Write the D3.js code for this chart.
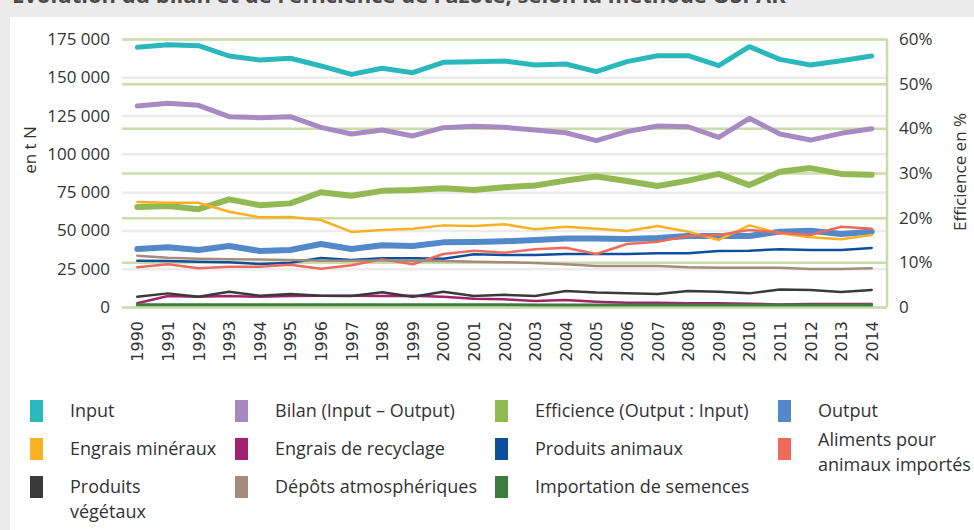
<!DOCTYPE html>
<html>
<head>
<meta charset="utf-8">
<script src="https://cdn.jsdelivr.net/npm/d3@7"></script>
<style>
  html, body { margin: 0; padding: 0; background: #ebebeb; }
  svg { display: block; }
</style>
</head>
<body>
<svg id="chart" width="974" height="530"></svg>
<script>
// Nitrogen balance (OSPAR method), 1990–2014
const years = d3.range(1990, 2015);

const input      = [169600,171300,170600,163900,161300,162400,157400,151900,155900,153000,159800,160200,160600,158000,158700,153700,160200,164100,164100,157600,170000,161700,158000,160800,163900];
const bilan      = [131300,133000,131700,124300,123600,124300,117300,113000,115600,111700,117100,118000,117300,115600,113800,108600,114500,118200,117700,110800,123200,113000,109000,113400,116400];
const output     = [37900,39000,37200,39800,36600,37200,41100,37900,40300,39800,42200,42400,42900,43800,44800,44800,44400,45100,46400,46400,46400,49200,49800,47700,49200];
const efficience = [22.4,22.6,21.9,24.1,22.8,23.2,25.7,24.9,26.0,26.2,26.6,26.2,26.8,27.2,28.3,29.2,28.2,27.1,28.3,29.8,27.3,30.3,31.1,29.8,29.6];
const engraisMineraux   = [68600,68100,68100,62200,58600,58800,56800,49000,50300,51100,53300,52900,54000,50700,52400,51100,49600,52900,49200,43800,53300,48100,45500,44200,47000];
const engraisRecyclage  = [2400,7200,6700,7200,6700,7200,7400,7400,7200,7400,6700,5400,5000,3900,4600,3500,2800,2800,2400,2400,2200,1700,2000,2000,2000];
const produitsAnimaux   = [30200,30000,29600,29200,28100,28900,32000,30700,31800,31800,31500,34400,34000,34000,34600,34600,34600,35100,35100,36600,36800,37700,37200,37200,38500];
const alimentsImportes  = [25900,27900,25300,26300,26300,27600,25000,27200,31100,27900,34600,36800,35500,37700,38700,34600,41100,42600,46400,47000,50300,48500,47000,52400,51100];
const produitsVegetaux  = [6700,8900,6700,10000,7400,8500,7400,7200,9600,6700,10000,7200,8000,7200,10400,9400,8900,8500,10400,10000,8900,11500,11100,9800,11100];
const depotsAtmo        = [33500,32200,31500,31100,31000,30700,30200,30200,30400,30200,30000,29600,29200,28700,27900,26800,26800,26800,25900,25700,25700,25700,24800,24800,25300];
const importSemences    = [1500,1500,1400,1400,1400,1400,1400,1400,1400,1400,1400,1400,1400,1300,1300,1300,1300,1300,1300,1300,1300,1300,1300,1300,1300];

const leftTicks  = [0, 25000, 50000, 75000, 100000, 125000, 150000, 175000];
const rightTicks = [0, 10, 20, 30, 40, 50, 60];

const titleText = "Évolution du bilan et de l’efficience de l’azote, selon la méthode OSPAR";
const leftTitle = "en t N";
const rightTitle = "Efficience en %";

// series: name, values, axis, colour, stroke width (drawing order = stacking order)
const series = [
  { name: "Input", values: input, axis: "L", color: "#2bb8bd", w: 5 },
  { name: "Bilan (Input – Output)", values: bilan, axis: "L", color: "#a88ac3", w: 5 },
  { name: "Efficience (Output : Input)", values: efficience, axis: "R", color: "#93b955", w: 6 },
  { name: "Output", values: output, axis: "L", color: "#5389c8", w: 6 },
  { name: "Engrais minéraux", values: engraisMineraux, axis: "L", color: "#fbb124", w: 2.5 },
  { name: "Engrais de recyclage", values: engraisRecyclage, axis: "L", color: "#a3216f", w: 2.5 },
  { name: "Produits animaux", values: produitsAnimaux, axis: "L", color: "#0b4f9d", w: 2.5 },
  { name: "Aliments pour animaux importés", values: alimentsImportes, axis: "L", color: "#ee6b5c", w: 2.5 },
  { name: "Produits végétaux", values: produitsVegetaux, axis: "L", color: "#3a3a3a", w: 2.5 },
  { name: "Dépôts atmosphériques", values: depotsAtmo, axis: "L", color: "#a48b7b", w: 2.5 },
  { name: "Importation de semences", values: importSemences, axis: "L", color: "#3a7d3c", w: 3 }
];

// legend grid: series names per row, and the label lines shown for each
const legendOrder = [
  ["Input", "Bilan (Input – Output)", "Efficience (Output : Input)", "Output"],
  ["Engrais minéraux", "Engrais de recyclage", "Produits animaux", "Aliments pour animaux importés"],
  ["Produits végétaux", "Dépôts atmosphériques", "Importation de semences"]
];
const legendLines = [
  [["Input"], ["Bilan (Input – Output)"], ["Efficience (Output : Input)"], ["Output"]],
  [["Engrais minéraux"], ["Engrais de recyclage"], ["Produits animaux"], ["Aliments pour", "animaux importés"]],
  [["Produits", "végétaux"], ["Dépôts atmosphériques"], ["Importation de semences"]]
];

const svg = d3.select("#chart");
const W = 974, H = 530;
const plot = { left: 122, right: 887, top: 39, bottom: 307 };
const FONT = "'Open Sans', 'Noto Sans', sans-serif";

// background, heading (runs off the top edge) and white card
svg.append("rect").attr("width", W).attr("height", H).attr("fill", "#ebebeb");
svg.append("text")
  .attr("x", 12).attr("y", 3)
  .attr("font-family", FONT).attr("font-weight", 700).attr("font-size", 22)
  .attr("fill", "#4a4a4a")
  .text(titleText);
svg.append("rect").attr("x", 10).attr("y", 17).attr("width", W - 10).attr("height", H - 17).attr("fill", "#ffffff");

const x = d3.scalePoint().domain(years).range([plot.left, plot.right]).padding(0.5);
const yL = d3.scaleLinear().domain([0, 175000]).range([plot.bottom, plot.top]);
const yR = d3.scaleLinear().domain([0, 60]).range([plot.bottom, plot.top]);

// left-axis gridlines (grey)
const gL = svg.append("g")
  .attr("transform", `translate(${plot.left},0)`)
  .call(d3.axisLeft(yL).tickValues(leftTicks).tickSize(-(plot.right - plot.left)).tickFormat(""));
gL.select(".domain").remove();
gL.selectAll(".tick line").attr("stroke", "#ececec").attr("stroke-width", 2.5);

// right-axis gridlines (light green) and frame
const gR = svg.append("g")
  .attr("transform", `translate(${plot.right},0)`)
  .call(d3.axisRight(yR).tickValues(rightTicks).tickSize(-(plot.right - plot.left)).tickFormat(""));
gR.select(".domain").remove();
gR.selectAll(".tick line").attr("stroke", "#cadcaa").attr("stroke-width", 2.5);
svg.append("line")
  .attr("x1", plot.right).attr("x2", plot.right)
  .attr("y1", plot.top).attr("y2", plot.bottom)
  .attr("stroke", "#cadcaa").attr("stroke-width", 2.5);

// tick labels
const fmtN = v => d3.format(",")(v).replace(/,/g, " ");
const axL = svg.append("g")
  .attr("transform", `translate(${plot.left - 12},0)`)
  .call(d3.axisLeft(yL).tickValues(leftTicks).tickSize(0).tickFormat(fmtN));
axL.select(".domain").remove();
axL.selectAll("text").attr("font-family", FONT).attr("font-size", 17).attr("fill", "#333").attr("x", 0);

const axR = svg.append("g")
  .attr("transform", `translate(${plot.right + 12},0)`)
  .call(d3.axisRight(yR).tickValues(rightTicks).tickSize(0).tickFormat(d => d === 0 ? "0" : d + "%"));
axR.select(".domain").remove();
axR.selectAll("text").attr("font-family", FONT).attr("font-size", 17).attr("fill", "#333").attr("x", 0);

const axX = svg.append("g")
  .attr("transform", `translate(0,${plot.bottom + 14})`)
  .call(d3.axisBottom(x).tickSize(0).tickFormat(d3.format("d")));
axX.select(".domain").remove();
axX.selectAll("text")
  .attr("font-family", "'DejaVu Sans', sans-serif").attr("font-size", 16).attr("fill", "#333")
  .attr("transform", "rotate(-90)")
  .attr("text-anchor", "end")
  .attr("x", 0).attr("y", 0).attr("dy", "0.35em");

// axis titles
svg.append("text")
  .attr("transform", "translate(36,150) rotate(-90)")
  .attr("text-anchor", "middle")
  .attr("font-family", FONT).attr("font-size", 17).attr("fill", "#333")
  .text(leftTitle);
svg.append("text")
  .attr("transform", "translate(966,172) rotate(-90)")
  .attr("text-anchor", "middle")
  .attr("font-family", FONT).attr("font-size", 17).attr("fill", "#333")
  .text(rightTitle);

// series lines
const lineFor = s => d3.line()
  .x((d, i) => x(years[i]))
  .y(d => s.axis === "R" ? yR(d) : yL(d))
  .curve(d3.curveLinear);

svg.append("g").selectAll("path")
  .data(series)
  .join("path")
  .attr("d", s => lineFor(s)(s.values))
  .attr("fill", "none")
  .attr("stroke", s => s.color)
  .attr("stroke-width", s => s.w)
  .attr("stroke-linejoin", "round")
  .attr("stroke-linecap", "round");

// legend
const colX = [30, 235, 495, 778];
const rowY = [411, 449, 487];
const byName = new Map(series.map(s => [s.name, s]));
const lg = svg.append("g");
legendOrder.forEach((row, r) => {
  row.forEach((name, c) => {
    const s = byName.get(name);
    const lines = legendLines[r][c];
    const g = lg.append("g").attr("transform", `translate(${colX[c]},${rowY[r]})`);
    g.append("rect")
      .attr("x", 0).attr("y", -11).attr("width", 13).attr("height", 22)
      .attr("fill", s.color);
    const y0 = lines.length > 1 && r === 1 ? -9 : 0;
    lines.forEach((t, k) => {
      g.append("text")
        .attr("x", 40).attr("y", y0 + k * 25)
        .attr("dy", "0.35em")
        .attr("font-family", FONT).attr("font-size", 18).attr("fill", "#333")
        .text(t);
    });
  });
});
</script>
</body>
</html>
